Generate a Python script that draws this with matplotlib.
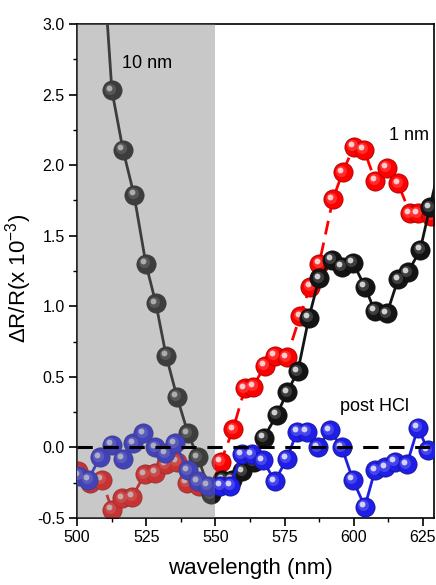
import matplotlib
matplotlib.use("Agg")
import matplotlib.pyplot as plt
import matplotlib.transforms as mtransforms
import numpy as np

plt.rcParams['font.family'] = ['Liberation Sans', 'DejaVu Sans']
plt.rcParams['mathtext.fontset'] = 'custom'
plt.rcParams['mathtext.rm'] = 'Liberation Sans'
plt.rcParams['mathtext.it'] = 'Liberation Sans:italic'

# ---- data ----
black_x = [508.6, 512.6, 516.6, 520.6, 524.9, 528.5, 532.2, 536.1, 540.1, 543.7, 548.3,
           552.4, 556.0, 559.8, 563.8, 567.5, 572.2, 575.9, 579.8, 583.8, 587.5, 592.0,
           595.7, 599.7, 604.0, 607.5, 612.0, 616.0, 619.6, 624.0, 627.5, 634.0]
black_y = [3.70, 2.53, 2.11, 1.79, 1.30, 1.02, 0.65, 0.36, 0.10, -0.07, -0.33,
           -0.23, -0.23, -0.17, -0.10, 0.07, 0.23, 0.39, 0.54, 0.92, 1.20, 1.33,
           1.28, 1.31, 1.14, 0.97, 0.95, 1.19, 1.24, 1.40, 1.70, 2.25]

red_x = [500.4, 504.7, 509.0, 512.6, 516.3, 519.9, 524.5, 528.2, 532.0, 536.0, 539.7,
         544.0, 548.0, 552.0, 556.4, 560.7, 563.6, 567.9, 571.5, 575.8, 580.6, 584.2,
         587.5, 592.5, 596.0, 600.0, 603.7, 607.7, 612.0, 616.0, 620.3, 623.2, 628.0]
red_y = [-0.17, -0.25, -0.23, -0.44, -0.36, -0.35, -0.19, -0.18, -0.12, -0.10, -0.25,
         -0.27, -0.30, -0.10, 0.13, 0.42, 0.43, 0.58, 0.65, 0.64, 0.93, 1.14,
         1.30, 1.76, 1.95, 2.13, 2.11, 1.89, 1.98, 1.87, 1.66, 1.66, 1.64]

blue_x = [500.4, 504.0, 508.3, 512.6, 516.6, 520.3, 523.9, 528.2, 531.8, 535.4, 540.1,
          543.7, 547.3, 551.7, 555.3, 559.6, 563.2, 567.2, 571.5, 575.8, 579.5, 583.0,
          587.0, 591.4, 595.7, 599.7, 604.0, 607.7, 611.3, 614.9, 619.2, 623.2, 626.8]
blue_y = [-0.20, -0.23, -0.07, 0.02, -0.08, 0.03, 0.10, 0.00, -0.04, 0.03, -0.16,
          -0.24, -0.27, -0.27, -0.27, -0.05, -0.05, -0.09, -0.24, -0.08, 0.11, 0.11,
          0.00, 0.12, 0.00, -0.23, -0.42, -0.16, -0.14, -0.10, -0.12, 0.14, -0.02]

x_ticks = [500, 525, 550, 575, 600, 625]
y_ticks = [-0.5, 0.0, 0.5, 1.0, 1.5, 2.0, 2.5, 3.0]
shade_range = (500, 550)

labels = [("10 nm", 516.3, 2.72), ("1 nm", 612.7, 2.21), ("post HCl", 595.0, 0.29)]

fig = plt.figure(figsize=(4.36, 5.85), dpi=100)
ax = fig.add_axes([77/436, 67/585, 357/436, 494/585])


def mix(c, w, t):
    c = np.array(matplotlib.colors.to_rgb(c))
    w = np.array(matplotlib.colors.to_rgb(w))
    return tuple(c * (1 - t) + w * t)


def spheres(x, y, color, ls, z):
    ax.plot(x, y, color=color, lw=2.0, ls=ls, zorder=z, solid_capstyle='butt',
            dashes=(5, 3) if ls == '--' else (None, None))
    for xi, yi in zip(x, y):
        ax.plot([xi], [yi], 'o', ms=13.8, color=color, mec=mix(color, 'black', 0.35),
                mew=0.6, zorder=z + 0.01)
        t1 = mtransforms.offset_copy(ax.transData, fig=fig, x=-1.5, y=1.5, units='dots')
        ax.plot([xi], [yi], 'o', ms=8, color=mix(color, 'white', 0.25), mew=0,
                alpha=0.7, transform=t1, zorder=z + 0.02)
        t2 = mtransforms.offset_copy(ax.transData, fig=fig, x=-2.5, y=2.5, units='dots')
        ax.plot([xi], [yi], 'o', ms=4.2, color=mix(color, 'white', 0.8), mew=0,
                transform=t2, zorder=z + 0.03)


spheres(red_x, red_y, '#ff0000', '--', 2)
spheres(black_x, black_y, '#141414', '-', 3)
spheres(blue_x, blue_y, '#1e1ee6', '-', 4)

ax.axvspan(*shade_range, color=(0.478, 0.478, 0.478), alpha=0.41, lw=0, zorder=5)
ax.axhline(0, color='black', lw=2.2, ls=(0, (5, 3.5)), zorder=6)

for txt, xx, yy in labels:
    ax.text(xx, yy, txt, fontsize=13, ha='left', va='center', zorder=7)

ax.set_xlim(500, 629)
ax.set_ylim(-0.5, 3.0)
ax.set_xticks(x_ticks)
ax.set_yticks(y_ticks)
ax.set_yticklabels([f"{v:.1f}" for v in y_ticks])
ax.set_xticks(np.arange(512.5, 629, 25), minor=True)
ax.set_yticks(np.arange(-0.25, 3.0, 0.5), minor=True)
ax.tick_params(which='major', direction='out', length=6, width=1.2, labelsize=11.5, pad=3)
ax.tick_params(which='minor', direction='out', length=3, width=1.0)
for s in ax.spines.values():
    s.set_linewidth(1.2)

ax.set_xlabel("wavelength (nm)", fontsize=16)
ax.set_ylabel(r"$\Delta$R/R(x 10$^{-3}$)", fontsize=16)
ax.xaxis.set_label_coords(0.485, -0.08)
ax.yaxis.set_label_coords(-0.12, 0.485)

fig.savefig("out.png", dpi=100)
